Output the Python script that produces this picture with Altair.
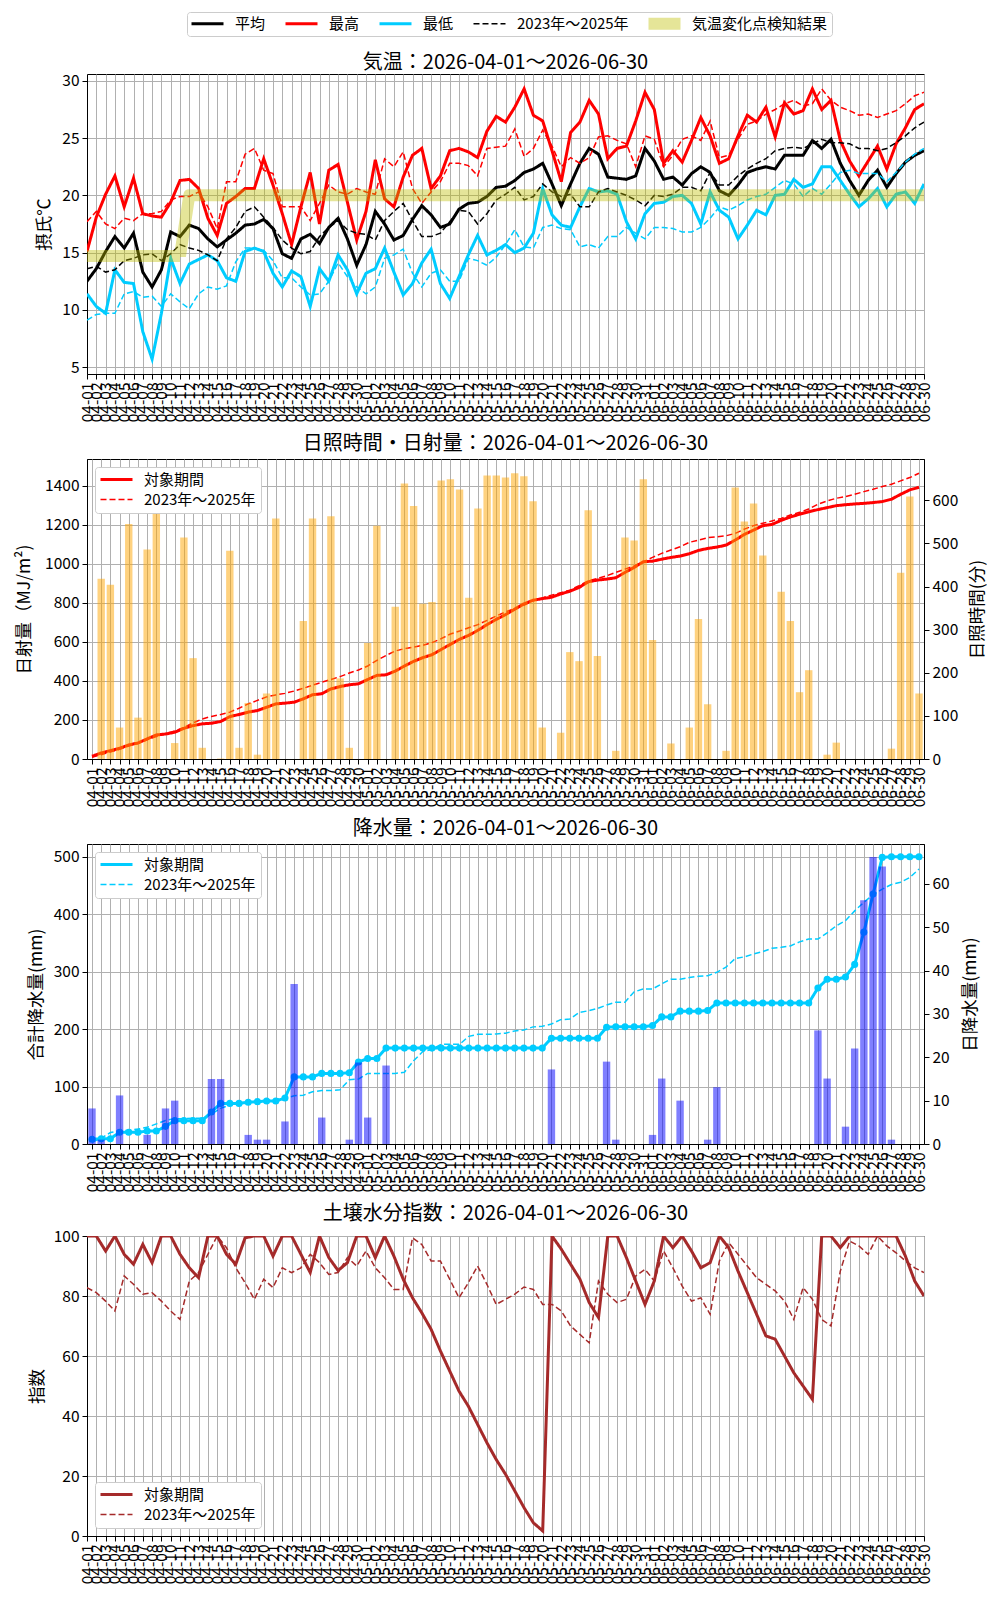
import altair as alt
import pandas as pd

# ---- days ----
dates = pd.date_range("2026-04-01", "2026-06-30", freq="D")
day_labels = [d.strftime("%m-%d") for d in dates]
days = list(range(len(dates)))
N = len(days)

# ---- temperature (deg C) ----
t_mean = [12.5, 13.6, 15.1, 16.4, 15.4, 16.7, 13.3, 12.0, 13.5, 16.8,
          16.4, 17.4, 17.1, 16.2, 15.5, 16.1, 16.7, 17.4, 17.5, 17.9,
          17.1, 14.9, 14.5, 16.2, 16.6, 15.8, 17.2, 18.0, 16.2, 13.9,
          15.7, 18.6, 17.5, 16.1, 16.5, 17.9, 19.1, 18.3, 17.2, 17.5,
          18.8, 19.3, 19.4, 19.9, 20.7, 20.8, 21.3, 22.0, 22.3, 22.8,
          21.0, 19.1, 21.0, 22.8, 24.1, 23.6, 21.6, 21.5, 21.4, 21.7,
          24.1, 23.0, 21.4, 21.6, 20.9, 21.9, 22.5, 22.0, 20.4, 20.0,
          20.9, 22.0, 22.3, 22.5, 22.3, 23.5, 23.5, 23.5, 24.8, 24.1,
          24.9, 22.8, 21.3, 20.0, 21.3, 22.2, 20.7, 21.9, 22.9, 23.5,
          23.9]
t_max = [15.1, 18.1, 20.1, 21.7, 19.0, 21.5, 18.4, 18.2, 18.1, 19.4,
         21.3, 21.4, 20.6, 18.0, 16.5, 19.3, 19.9, 20.6, 20.6, 23.2,
         20.9, 18.4, 15.7, 19.0, 22.0, 17.5, 22.2, 22.7, 19.4, 16.1,
         18.6, 23.1, 19.7, 19.0, 21.6, 23.5, 24.1, 20.6, 21.7, 23.9,
         24.1, 23.8, 23.3, 25.6, 26.9, 26.4, 27.7, 29.3, 27.0, 26.5,
         23.9, 21.2, 25.5, 26.4, 28.3, 27.1, 23.2, 24.1, 24.3, 26.5,
         29.0, 27.5, 22.8, 23.9, 22.9, 24.8, 26.8, 25.2, 22.8, 23.2,
         25.2, 27.0, 26.4, 27.7, 25.1, 28.1, 27.1, 27.4, 29.3, 27.5,
         28.3, 24.8, 23.0, 21.7, 23.0, 24.3, 22.3, 24.5, 25.9, 27.5,
         28.0]
t_min = [11.4, 10.3, 9.7, 13.5, 12.4, 12.3, 8.1, 5.7, 9.7, 14.5,
         12.3, 14.0, 14.4, 14.8, 14.3, 12.8, 12.5, 15.1, 15.4, 15.1,
         13.2, 12.0, 13.4, 12.9, 10.3, 13.6, 12.5, 14.8, 13.5, 11.4,
         13.2, 13.6, 15.4, 13.3, 11.3, 12.3, 14.1, 15.3, 12.3, 11.0,
         12.9, 14.8, 16.5, 14.8, 15.2, 15.7, 15.0, 15.4, 16.7, 20.6,
         18.3, 17.4, 17.2, 19.0, 20.6, 20.3, 20.4, 20.1, 17.7, 16.2,
         18.4, 19.3, 19.4, 19.9, 20.0, 19.3, 17.5, 20.3, 18.7, 18.1,
         16.2, 17.4, 18.7, 18.3, 20.0, 20.1, 21.4, 20.7, 21.0, 22.5,
         22.5, 21.3, 20.1, 19.0, 19.7, 20.6, 19.0, 20.1, 20.3, 19.3,
         21.0]
t_mean_3y = [13.6, 13.8, 13.3, 13.5, 14.3, 14.5, 14.8, 14.9, 14.3, 14.9,
             15.7, 15.4, 15.2, 14.8, 14.3, 16.2, 17.2, 18.6, 19.0, 18.1,
             17.2, 16.1, 15.4, 14.9, 15.1, 16.4, 17.2, 17.8, 17.0, 16.7,
             16.6, 16.1, 17.8, 18.6, 19.3, 17.8, 16.4, 16.4, 16.7, 17.7,
             18.7, 18.6, 17.5, 18.4, 19.6, 20.1, 20.7, 19.6, 19.9, 21.0,
             20.3, 19.9, 20.1, 19.0, 19.0, 20.3, 20.6, 20.3, 20.0, 19.6,
             19.1, 20.0, 19.9, 20.1, 20.7, 20.7, 20.4, 22.0, 20.9, 20.9,
             21.7, 22.3, 22.8, 23.2, 23.9, 24.1, 24.2, 24.1, 24.5, 24.9,
             24.6, 24.6, 24.5, 24.1, 24.1, 23.9, 24.1, 24.6, 25.2, 25.9,
             26.4]
t_max_3y = [17.7, 18.6, 17.5, 17.1, 18.0, 17.8, 18.4, 18.4, 18.6, 19.6,
            19.9, 19.9, 20.3, 19.0, 17.1, 21.2, 21.2, 23.6, 24.1, 22.2,
            21.9, 19.0, 19.0, 19.0, 17.8, 19.3, 20.9, 20.3, 20.1, 20.6,
            20.3, 20.1, 23.2, 22.5, 23.8, 20.6, 19.3, 20.3, 21.2, 22.8,
            22.8, 22.6, 21.7, 24.1, 24.2, 24.3, 25.8, 23.4, 24.1, 25.7,
            24.3, 22.5, 23.3, 22.8, 23.3, 25.1, 25.2, 24.8, 24.5, 22.5,
            25.2, 24.9, 22.5, 23.5, 24.9, 25.2, 24.8, 26.5, 23.3, 23.5,
            24.9, 26.2, 26.5, 27.1, 27.5, 28.0, 28.3, 27.8, 28.0, 29.3,
            28.3, 27.7, 27.4, 27.0, 27.1, 26.8, 27.1, 27.4, 28.0, 28.7,
            29.0]
t_min_3y = [9.1, 9.6, 9.7, 9.7, 11.4, 11.6, 11.1, 11.2, 10.3, 11.4,
            10.7, 10.1, 11.4, 12.0, 11.8, 12.1, 14.2, 15.4, 15.4, 15.2,
            14.3, 12.8, 12.8, 12.0, 11.3, 11.4, 12.5, 14.1, 12.9, 12.0,
            11.4, 12.0, 14.5, 14.8, 15.3, 13.2, 12.0, 13.2, 13.5, 12.5,
            12.5, 14.5, 14.3, 13.9, 14.6, 15.7, 17.0, 15.5, 15.4, 17.2,
            17.4, 17.1, 17.0, 15.5, 15.7, 15.4, 16.4, 16.4, 17.2, 16.7,
            16.2, 17.2, 17.2, 17.1, 16.8, 16.8, 17.2, 18.0, 19.0, 18.7,
            19.1, 19.6, 19.9, 20.1, 20.7, 21.3, 21.0, 19.9, 20.6, 20.1,
            21.0, 22.0, 22.2, 21.9, 21.9, 21.9, 21.2, 22.0, 22.9, 23.6,
            24.1]
# change point detection result (step)
cp_days = [0, 10, 11, 90]
cp_temp = [14.7, 14.7, 20.0, 20.0]

# ---- solar radiation (cumulative MJ/m2) and sunshine (min) ----
solar_cum = [14, 31, 43, 55, 72, 82, 103, 123, 128, 137,
             157, 171, 180, 183, 192, 217, 228, 240, 248, 265,
             282, 286, 291, 308, 329, 334, 359, 371, 380, 385,
             407, 428, 431, 450, 476, 500, 519, 534, 561, 587,
             613, 633, 659, 688, 715, 739, 767, 794, 813, 821,
             828, 845, 859, 878, 907, 916, 921, 928, 955, 981,
             1010, 1013, 1023, 1032, 1039, 1051, 1068, 1078, 1085, 1095,
             1121, 1150, 1172, 1195, 1201, 1222, 1239, 1253, 1266, 1277,
             1287, 1297, 1302, 1306, 1309, 1313, 1318, 1330, 1355, 1378,
             1391]
solar_cum_3y = [9, 22, 36, 50, 66, 80, 98, 115, 128, 143,
                162, 185, 205, 218, 228, 240, 260, 282, 300, 318,
                328, 336, 348, 362, 378, 393, 407, 422, 440, 456,
                476, 505, 530, 553, 565, 573, 582, 596, 616, 640,
                655, 672, 688, 710, 732, 753, 770, 787, 810, 825,
                839, 851, 864, 887, 912, 924, 938, 955, 972, 989,
                1010, 1032, 1053, 1070, 1087, 1109, 1121, 1133, 1138, 1143,
                1155, 1177, 1195, 1207, 1219, 1232, 1249, 1263, 1280, 1304,
                1321, 1335, 1343, 1355, 1369, 1381, 1395, 1407, 1424, 1441,
                1463]
sunshine_min = [0, 418, 404, 73, 545, 96, 486, 590, 0, 37,
                514, 234, 26, 0, 1, 483, 26, 130, 10, 152,
                558, 0, 0, 320, 558, 0, 563, 187, 26, 0,
                269, 541, 0, 353, 639, 587, 360, 364, 646, 649,
                625, 374, 581, 658, 658, 653, 663, 656, 598, 73,
                0, 61, 248, 227, 577, 239, 0, 19, 514, 507,
                649, 276, 0, 36, 0, 73, 325, 127, 0, 19,
                630, 551, 593, 472, 0, 388, 320, 155, 206, 0,
                10, 38, 0, 0, 0, 0, 0, 24, 432, 609,
                152]

# ---- precipitation (mm) ----
rain_daily = [8.2, 1.0, 0, 11.2, 0, 0, 2.1, 0, 8.2, 10.0,
              0, 0, 0, 15.0, 15.0, 0, 0, 2.1, 1.0, 1.0,
              0, 5.2, 36.9, 0, 0, 6.1, 0, 0, 1.0, 18.8,
              6.1, 0, 18.1, 0, 0, 0, 0, 0, 0, 0,
              0, 0, 0, 0, 0, 0, 0, 0, 0, 0,
              17.2, 0, 0, 0, 0, 0, 19.0, 1.0, 0, 0,
              0, 2.1, 15.1, 0, 10.0, 0, 0, 1.0, 13.1, 0,
              0, 0, 0, 0, 0, 0, 0, 0, 0, 26.2,
              15.1, 0, 4.0, 22.0, 56.2, 66.2, 64.0, 1.0, 0, 0,
              0]
rain_cum = [8.2, 9.2, 9.2, 20.4, 20.4, 20.4, 22.5, 22.5, 30.7, 40.7,
            40.7, 40.7, 40.7, 55.7, 70.7, 70.7, 70.7, 72.8, 73.8, 74.8,
            74.8, 80.0, 116.9, 116.9, 116.9, 123.0, 123.0, 123.0, 124.0, 142.8,
            148.9, 148.9, 167.0, 167.0, 167.0, 167.0, 167.0, 167.0, 167.0, 167.0,
            167.0, 167.0, 167.0, 167.0, 167.0, 167.0, 167.0, 167.0, 167.0, 167.0,
            184.2, 184.2, 184.2, 184.2, 184.2, 184.2, 203.2, 204.2, 204.2, 204.2,
            204.2, 206.3, 221.4, 221.4, 231.4, 231.4, 231.4, 232.4, 245.5, 245.5,
            245.5, 245.5, 245.5, 245.5, 245.5, 245.5, 245.5, 245.5, 245.5, 271.7,
            286.8, 286.8, 290.8, 312.8, 369.0, 435.2, 499.2, 500.2, 500.2, 500.2,
            500.2]
rain_cum_3y = [3, 10, 20, 23, 24, 26, 29, 35, 41, 44,
               44, 45, 45, 52, 62, 68, 71, 72.5, 74, 75.5,
               78, 79.5, 84, 85, 91, 93, 93, 94.6, 112, 113,
               123, 123, 123, 123, 125, 145, 161, 165, 173.6, 173.6,
               173.6, 187.5, 191, 191, 191.6, 193, 197, 198.5, 204, 205,
               209, 216.5, 217.7, 229, 232, 236, 242, 247, 247, 265,
               270, 270, 279, 287, 287, 290, 292, 293, 299, 308,
               323, 326, 331, 335, 341, 342.5, 345, 352, 357, 357,
               367.5, 380, 389, 406, 421, 434, 444, 452, 456, 464,
               479]

# ---- soil water index ----
soil_idx = [100, 100, 95, 100, 93.9, 90.6, 97.2, 91.1, 100, 100,
            93.9, 89.4, 86.1, 100, 100, 93.9, 90.6, 99.4, 100, 100,
            93.3, 100, 100, 93.9, 87.8, 100, 92.8, 88.5, 91.1, 100,
            100, 92.8, 100, 93.3, 85.6, 79.4, 74.4, 68.9, 61.7, 55,
            48.3, 43.3, 37.2, 31.1, 25.5, 20.6, 15, 9.4, 4.4, 1.7,
            100, 95.6, 90.6, 85.6, 77.8, 72.8, 100, 100, 92.8, 85,
            77.2, 85, 100, 96.1, 100, 95, 89.4, 91.1, 100, 96.1,
            88.3, 81.1, 73.9, 66.7, 65.6, 60, 54.4, 50, 45.6, 100,
            100, 96.1, 100, 100, 100, 100, 100, 100, 93.3, 85,
            80]
soil_idx_3y = [82.8, 81.1, 78.3, 75, 86.7, 83.9, 80.6, 81.1, 78.3, 75,
               72.2, 85, 87.8, 93.9, 100, 96.1, 89.4, 84.4, 78.9, 85.6,
               82.8, 89.4, 87.8, 89.4, 93.9, 91.1, 87.2, 87.8, 92.8, 90,
               95, 89.4, 86.1, 82.2, 82.2, 99.4, 97.2, 91.7, 91.7, 85.6,
               79.4, 84.4, 90, 83.9, 77.2, 78.9, 80.6, 83, 82.2, 77.2,
               77.2, 75, 70, 67.2, 64.4, 85, 80.6, 77.8, 78.9, 86.7,
               88.9, 85, 95, 89.4, 83.3, 78.3, 79.4, 73.9, 91.7, 97.8,
               93.9, 90, 86.1, 83.9, 81.7, 78.3, 72.2, 82.8, 78.9, 72.2,
               70, 88.3, 98.3, 96.7, 93.9, 100, 96.7, 94.4, 91.7, 89.4,
               87.8]

PERIOD = "2026-04-01～2026-06-30"
TARGET = "対象期間"
PAST = "2023年～2025年"
CYAN = "#00ccff"
BROWN = "#a52a2a"
W, H = 837, 300
SYM = "M-16,0H16"   # 32px wide line symbol at symbolSize 4

label_expr = "[" + ",".join(f"'{s}'" for s in day_labels) + "][datum.value]"


def x_enc():
    return alt.X("day:Q", title=None,
                 scale=alt.Scale(domain=[0, N - 1], nice=False, zero=False),
                 axis=alt.Axis(values=days, labelExpr=label_expr, labelAngle=270,
                               labelOverlap=False, labelFlush=False, grid=True))


def make_title(name, **kw):
    return alt.TitleParams(f"{name}：{PERIOD}", fontSize=20, fontWeight="normal",
                           offset=5, color="black", frame="group", **kw)


def box_legend(**kw):
    opts = dict(title=None, symbolType=SYM, symbolSize=4, symbolOffset=9,
                labelOffset=20, labelFontSize=15, labelColor="black",
                strokeColor="#cccccc", fillColor="white", padding=5,
                cornerRadius=3, rowPadding=4, clipHeight=15)
    opts.update(kw)
    return alt.Legend(**opts)


def pair_channels(field, colors, leg):
    dom = [TARGET, PAST]
    return dict(
        color=alt.Color(f"{field}:N", scale=alt.Scale(domain=dom, range=colors), legend=leg),
        strokeDash=alt.StrokeDash(f"{field}:N", scale=alt.Scale(domain=dom, range=[[1, 0], [6, 3]]), legend=leg),
        strokeWidth=alt.StrokeWidth(f"{field}:N", scale=alt.Scale(type="ordinal", domain=dom, range=[3, 1.5]), legend=leg),
    )


# ================= 1. temperature =================
t_dom = ["平均", "最高", "最低", PAST, "気温変化点検知結果"]
top_leg = box_legend(orient="none", legendX=100, legendY=-62, direction="horizontal",
                     columns=5, columnPadding=19, padding=4)


def temp_channels():
    return dict(
        color=alt.Color("tser:N", scale=alt.Scale(domain=t_dom, range=["black", "red", CYAN, "black", "#bfbf00"]), legend=top_leg),
        strokeDash=alt.StrokeDash("tser:N", scale=alt.Scale(domain=t_dom, range=[[1, 0], [1, 0], [1, 0], [6, 3], [1, 0]]), legend=top_leg),
        strokeWidth=alt.StrokeWidth("tser:N", scale=alt.Scale(type="ordinal", domain=t_dom, range=[3, 3, 3, 1.5, 12]), legend=top_leg),
        opacity=alt.Opacity("tser:N", scale=alt.Scale(type="ordinal", domain=t_dom, range=[1, 1, 1, 1, 0.4]), legend=top_leg),
    )


temp_y = alt.Y("value:Q", scale=alt.Scale(domain=[4.4, 30.6], nice=False, zero=False),
               axis=alt.Axis(values=[5, 10, 15, 20, 25, 30], title="摂氏℃", titlePadding=8))

temp_long = pd.DataFrame({
    "day": days * 3,
    "tser": ["平均"] * N + ["最高"] * N + ["最低"] * N,
    "value": t_mean + t_max + t_min,
})
temp_3y = pd.DataFrame({"day": days, "mean3": t_mean_3y, "max3": t_max_3y, "min3": t_min_3y})
cp_df = pd.DataFrame({"day": cp_days, "tser": "気温変化点検知結果", "value": cp_temp})

dashed = []
for col, c in [("mean3", "black"), ("max3", "red"), ("min3", CYAN)]:
    dashed.append(
        alt.Chart(temp_3y).mark_line(color=c, strokeDash=[6, 3], strokeWidth=1.5, clip=True)
        .encode(x=x_enc(), y=alt.Y(f"{col}:Q", scale=alt.Scale(domain=[4.4, 30.6], nice=False, zero=False)))
    )
solid = alt.Chart(temp_long).mark_line(clip=True).encode(x=x_enc(), y=temp_y, **temp_channels())
band = alt.Chart(cp_df).mark_line(clip=True, strokeJoin="round").encode(x=x_enc(), y=temp_y, **temp_channels())

# the shared legend sits above the title, so the title is pushed down under it
p1 = alt.layer(solid, *dashed, band).properties(width=W, height=H, title=make_title("気温", dy=66))

# ================= 2. sunshine / solar =================
solar_long = pd.DataFrame({
    "day": days * 2,
    "sser": [TARGET] * N + [PAST] * N,
    "value": solar_cum + solar_cum_3y,
})
sun_df = pd.DataFrame({"day": days, "sunshine": sunshine_min})

solar_lines = alt.Chart(solar_long).mark_line(clip=True).encode(
    x=x_enc(),
    y=alt.Y("value:Q", scale=alt.Scale(domain=[0, 1536], nice=False),
            axis=alt.Axis(values=list(range(0, 1401, 200)), format="d", title="日射量（MJ/m²)", titlePadding=11)),
    **pair_channels("sser", ["red", "red"], box_legend(orient="top-left", offset=8)),
)
sun_bars = alt.Chart(sun_df).mark_bar(color="orange", opacity=0.5, size=7.4, clip=True).encode(
    x=x_enc(),
    y=alt.Y("sunshine:Q", scale=alt.Scale(domain=[0, 696], nice=False),
            axis=alt.Axis(values=list(range(0, 601, 100)), title="日照時間(分)", orient="right",
                          grid=False, titleAngle=270, titleBaseline="top", titlePadding=11)),
)
p2 = alt.layer(solar_lines, sun_bars).resolve_scale(y="independent").properties(
    width=W, height=H, title=make_title("日照時間・日射量"))

# ================= 3. precipitation =================
rain_long = pd.DataFrame({
    "day": days * 2,
    "rser": [TARGET] * N + [PAST] * N,
    "value": rain_cum + rain_cum_3y,
})
rain_df = pd.DataFrame({"day": days, "daily": rain_daily, "cum": rain_cum})
rain_y = alt.Y("value:Q", scale=alt.Scale(domain=[0, 522.5], nice=False),
               axis=alt.Axis(values=list(range(0, 501, 100)), title="合計降水量(mm)", titlePadding=8))

rain_lines = alt.Chart(rain_long).mark_line(clip=True).encode(
    x=x_enc(), y=rain_y,
    **pair_channels("rser", [CYAN, CYAN], box_legend(orient="top-left", offset=8)),
)
rain_dots = alt.Chart(rain_df).mark_circle(color=CYAN, size=50, opacity=1, clip=True).encode(
    x=x_enc(), y=alt.Y("cum:Q", scale=alt.Scale(domain=[0, 522.5], nice=False)))
rain_bars = alt.Chart(rain_df).mark_bar(color="blue", opacity=0.5, size=7.4, clip=True).encode(
    x=x_enc(),
    y=alt.Y("daily:Q", scale=alt.Scale(domain=[0, 69.2], nice=False),
            axis=alt.Axis(values=list(range(0, 61, 10)), title="日降水量(mm)", orient="right",
                          grid=False, titleAngle=270, titleBaseline="top", titlePadding=12)),
)
p3 = alt.layer(alt.layer(rain_lines, rain_dots), rain_bars).resolve_scale(y="independent").properties(
    width=W, height=H, title=make_title("降水量"))

# ================= 4. soil water index =================
soil_long = pd.DataFrame({
    "day": days * 2,
    "wser": [TARGET] * N + [PAST] * N,
    "value": soil_idx + soil_idx_3y,
})
p4 = alt.Chart(soil_long).mark_line(clip=True).encode(
    x=x_enc(),
    y=alt.Y("value:Q", scale=alt.Scale(domain=[0, 100], nice=False),
            axis=alt.Axis(values=list(range(0, 101, 20)), title="指数", titlePadding=7)),
    **pair_channels("wser", [BROWN, BROWN], box_legend(orient="bottom-left", offset=8)),
).properties(width=W, height=H, title=make_title("土壌水分指数"))

chart = alt.vconcat(p1, p2, p3, p4, spacing=10).resolve_scale(
    color="independent", strokeDash="independent", strokeWidth="independent", opacity="independent"
).properties(
    padding={"left": 7, "top": 3, "right": 0, "bottom": 0}
).configure(
    font="Noto Sans CJK JP"
).configure_view(
    stroke="black", strokeWidth=1
).configure_axis(
    labelFontSize=15.5, labelColor="black", titleFontSize=17.5, titleFontWeight="normal",
    titleColor="black", tickColor="black", tickSize=5, labelPadding=3,
    domainColor="black", gridColor="#b0b0b0", gridWidth=1
)

chart.save("out.html", embed_options={"renderer": "svg", "actions": False})
